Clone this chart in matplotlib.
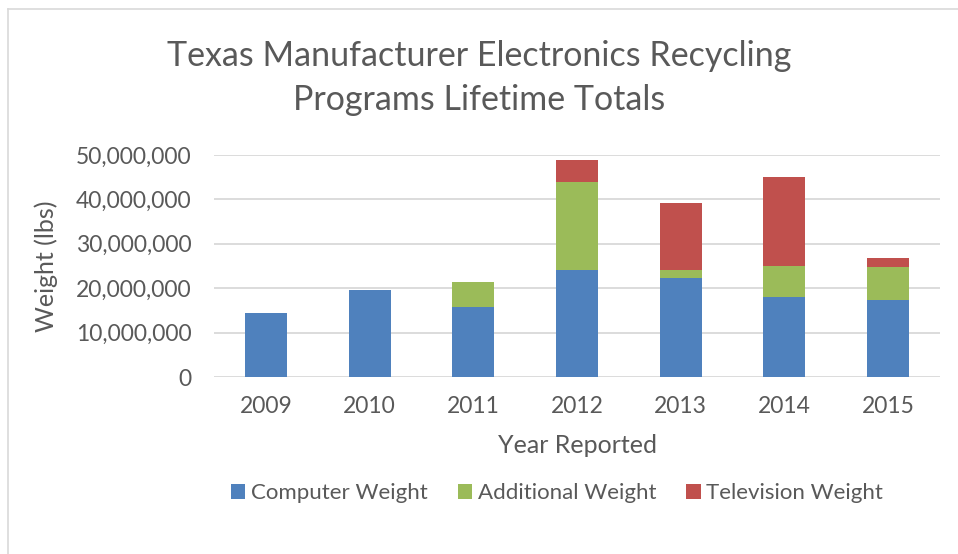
import matplotlib
matplotlib.use("Agg")
from matplotlib import pyplot as plt
from matplotlib.lines import Line2D
import numpy as np

years = ["2009", "2010", "2011", "2012", "2013", "2014", "2015"]
computer = [14.4e6, 19.5e6, 15.8e6, 24.1e6, 22.2e6, 18.0e6, 17.3e6]
additional = [0, 0, 5.6e6, 19.8e6, 1.9e6, 7.1e6, 7.4e6]
television = [0, 0, 0, 5.0e6, 15.0e6, 20.0e6, 2.2e6]

blue = "#4f81bd"
green = "#9bbb59"
red = "#c0504d"
txt = "#595959"

plt.rcParams["font.family"] = ["Lato", "DejaVu Sans"]

fig = plt.figure(figsize=(9.58, 5.54), dpi=100)
ax = fig.add_axes([214 / 958, 1 - 377 / 554, (940 - 214) / 958, (377 - 155) / 554])

x = np.arange(len(years))
w = 0.405
ax.bar(x, computer, w, color=blue, label="Computer Weight", zorder=3)
ax.bar(x, additional, w, bottom=computer, color=green, label="Additional Weight", zorder=3)
bottom2 = np.array(computer) + np.array(additional)
ax.bar(x, television, w, bottom=bottom2, color=red, label="Television Weight", zorder=3)

ax.set_xlim(-0.5, len(years) - 0.5)
ax.set_ylim(0, 50e6)
ax.set_yticks(np.arange(0, 50e6 + 1, 10e6))
ax.yaxis.set_major_formatter(matplotlib.ticker.FuncFormatter(lambda v, p: f"{int(v):,}"))
ax.set_xticks(x)
ax.set_xticklabels(years)
ax.grid(axis="y", color="#d9d9d9", linewidth=1.3, zorder=0)
for s in ax.spines.values():
    s.set_visible(False)
ax.tick_params(length=0, labelsize=16.5, colors=txt)
ax.tick_params(axis="y", pad=16)
ax.tick_params(axis="x", pad=14)
ax.set_ylabel("Weight (lbs)", fontsize=18, color=txt, labelpad=13)
ax.set_xlabel("Year Reported", fontsize=18, color=txt, labelpad=12)

fig.text(0.5, 1 - 78 / 554, "Texas Manufacturer Electronics Recycling\nPrograms Lifetime Totals",
         ha="center", va="center", fontsize=24.5, color=txt, linespacing=1.5)

fig.legend(loc="center", bbox_to_anchor=(557 / 958, 1 - 493 / 554), ncol=3, frameon=False,
           fontsize=16, labelcolor=txt, handlelength=0.65, handleheight=0.65,
           handletextpad=0.25, columnspacing=1.35)

# chart border (left and top edges visible)
fig.add_artist(Line2D([8 / 958, 8 / 958], [0, 1 - 9 / 554], transform=fig.transFigure,
                      color="#d9d9d9", linewidth=1.2))
fig.add_artist(Line2D([8 / 958, 1], [1 - 9 / 554, 1 - 9 / 554], transform=fig.transFigure,
                      color="#d9d9d9", linewidth=1.2))

fig.savefig("out.png", dpi=100, facecolor="white")
